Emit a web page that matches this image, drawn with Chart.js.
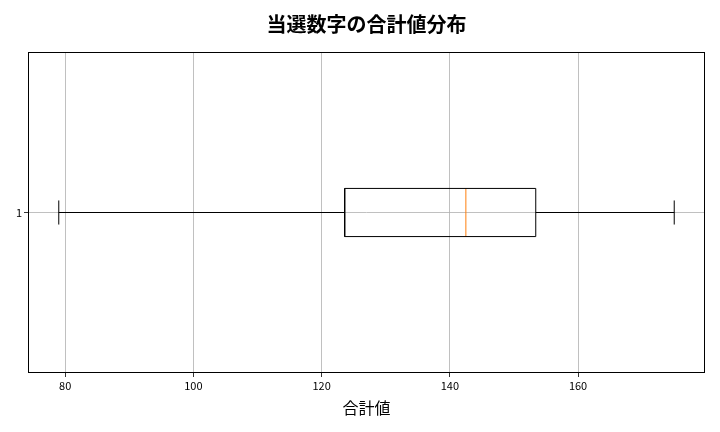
<!DOCTYPE html>
<html>
<head>
<meta charset="utf-8">
<script src="https://cdn.jsdelivr.net/npm/chart.js@4"></script>
<style>
  html, body { margin: 0; padding: 0; background: #fff; }
  #wrap { width: 720px; height: 432px; }
</style>
</head>
<body>
<div id="wrap"><canvas id="box"></canvas></div>
<script>
// box plot numbers
let categories = ['1'];
let whiskerLow = [79];
let q1 = [123.6];
let median = [142.5];
let q3 = [153.4];
let whiskerHigh = [175];
let xTicks = [80, 100, 120, 140, 160];

// drawing sizes (in y units, axis runs 0.5 .. 1.5)
const boxHalf = 0.075;
const capHalf = 0.0375;
const fontName = "'Noto Sans CJK JP', 'Noto Sans', sans-serif";

function seg(x1, y1, x2, y2) {
    return [{x: x1, y: y1}, {x: x2, y: y2}];
}

let datasets = [];
categories.forEach(function(c, i) {
    let y = i + 1;
    let lineStyle = {showLine: true, pointRadius: 0, borderColor: '#000', borderWidth: 1, tension: 0};
    datasets.push(Object.assign({label: 'box', data: [
        {x: q1[i], y: y - boxHalf}, {x: q3[i], y: y - boxHalf},
        {x: q3[i], y: y + boxHalf}, {x: q1[i], y: y + boxHalf},
        {x: q1[i], y: y - boxHalf}
    ]}, lineStyle));
    datasets.push(Object.assign({label: 'whisker low', data: seg(whiskerLow[i], y, q1[i], y)}, lineStyle));
    datasets.push(Object.assign({label: 'whisker high', data: seg(q3[i], y, whiskerHigh[i], y)}, lineStyle));
    datasets.push(Object.assign({label: 'cap low', data: seg(whiskerLow[i], y - capHalf, whiskerLow[i], y + capHalf)}, lineStyle));
    datasets.push(Object.assign({label: 'cap high', data: seg(whiskerHigh[i], y - capHalf, whiskerHigh[i], y + capHalf)}, lineStyle));
    datasets.push(Object.assign({label: 'median', data: seg(median[i], y - boxHalf, median[i], y + boxHalf)}, lineStyle, {borderColor: '#ff7f0e'}));
});

// frame all four sides of the plot like matplotlib
const frame = {
    id: 'frame',
    afterDraw(chart) {
        let a = chart.chartArea, ctx = chart.ctx;
        ctx.save();
        ctx.strokeStyle = '#000';
        ctx.lineWidth = 1;
        ctx.strokeRect(a.left + 0.5, a.top + 0.5, a.right - a.left - 1, a.bottom - a.top - 1);
        ctx.restore();
    }
};

let ctx = document.getElementById('box').getContext('2d');
let chart = new Chart(ctx, {
    type: 'scatter',
    data: { datasets: datasets },
    options: {
        responsive: true,
        maintainAspectRatio: false,
        animation: false,
        layout: { padding: { left: 0, right: 15, top: 0, bottom: 0 } },
        plugins: {
            legend: { display: false },
            tooltip: { enabled: false },
            title: {
                display: true,
                fullSize: false,
                text: '当選数字の合計値分布',
                color: '#000',
                font: { family: fontName, size: 20, weight: 'bold' },
                padding: { top: 12, bottom: 16 }
            }
        },
        scales: {
            x: {
                type: 'linear',
                min: 74.2,
                max: 179.8,
                afterBuildTicks: function(scale) {
                    scale.ticks = xTicks.map(function(v) { return {value: v}; });
                },
                afterFit: function(scale) { scale.height = 59; },
                ticks: { color: '#000', font: { family: fontName, size: 11 }, padding: 2, maxRotation: 0 },
                grid: { color: '#b0b0b0', lineWidth: 0.8, tickColor: '#000', tickLength: 4 },
                border: { display: false },
                title: {
                    display: true,
                    text: '合計値',
                    color: '#000',
                    font: { family: fontName, size: 16 },
                    padding: { top: 4, bottom: 14 }
                }
            },
            y: {
                type: 'linear',
                min: 0.5,
                max: 1.5,
                afterBuildTicks: function(scale) {
                    scale.ticks = categories.map(function(c, i) { return {value: i + 1}; });
                },
                afterFit: function(scale) { scale.width = 28; },
                ticks: {
                    color: '#000',
                    font: { family: fontName, size: 11 },
                    padding: 2,
                    callback: function(v) { return categories[Math.round(v) - 1]; }
                },
                grid: { color: '#b0b0b0', lineWidth: 0.8, tickColor: '#000', tickLength: 4 },
                border: { display: false }
            }
        }
    },
    plugins: [frame]
});
</script>
</body>
</html>
